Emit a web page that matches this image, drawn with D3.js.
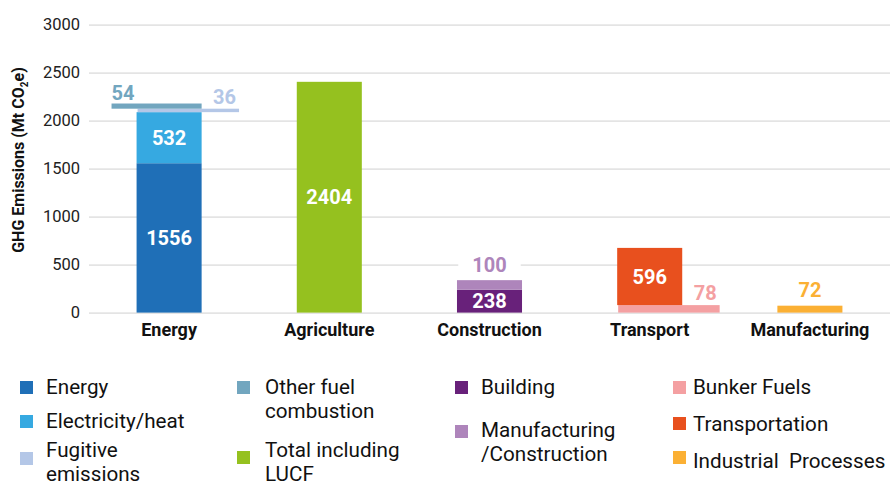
<!DOCTYPE html>
<html>
<head>
<meta charset="utf-8">
<script src="https://cdn.jsdelivr.net/npm/d3@7"></script>
<style>
  body { margin: 0; background: #fff; }
  svg { font-family: Roboto, "Noto Sans", sans-serif; display: block; }
  .legend text { white-space: pre; }
</style>
</head>
<body>
<svg id="chart" width="891" height="482"></svg>
<script>
// data
var categories = ["Energy", "Agriculture", "Construction", "Transport", "Manufacturing"];
var seriesNames = ["Energy", "Electricity/heat", "Fugitive emissions", "Other fuel combustion",
  "Total including LUCF", "Building", "Manufacturing/Construction", "Bunker Fuels",
  "Transportation", "Industrial  Processes"];
var seriesCategory = ["Energy", "Energy", "Energy", "Energy", "Agriculture",
  "Construction", "Construction", "Transport", "Transport", "Manufacturing"];
var seriesValues = [1556, 532, 36, 54, 2404, 238, 100, 78, 596, 72];
var yTicks = [0, 500, 1000, 1500, 2000, 2500, 3000];

// styling
var seriesColors = ["#1f6fb7", "#36a9e1", "#b4c7e7", "#72a6bf", "#95c11f",
  "#68217a", "#ae85bb", "#f4a0a2", "#e8501e", "#fbb034"];
var barShape = ["main", "main", "wide", "left", "main", "main", "main", "wide", "main", "main"];
var labelPos = ["in", "in", "right", "left", "in", "in", "above", "right", "in", "above"];
var legendLabels = ["Energy", "Electricity/heat", "Fugitive\nemissions", "Other fuel\ncombustion",
  "Total including\nLUCF", "Building", "Manufacturing\n/Construction", "Bunker Fuels",
  "Transportation", "Industrial  Processes"];
var legendCol = [0, 0, 0, 1, 1, 2, 2, 3, 3, 3];
var legendColX = [20, 237, 455, 673];
var legendTextX = [46, 265, 481, 693];
var legendSwatchY = [381, 415, 452, 381, 451, 381, 425, 381, 417, 451];
var legendBaseY = [394, 428, 457, 394, 457, 394, 437, 394, 431, 468];

var svg = d3.select("#chart");
var plotL = 89, plotR = 890, plotT = 24.6, plotB = 312.6;

var x = d3.scaleBand().domain(categories).range([plotL, plotR]);
var y = d3.scaleLinear().domain([0, 3000]).range([plotB, plotT]);
var barW = x.bandwidth() * 0.406;

// grid + y axis
var yAxis = svg.append("g")
  .attr("transform", "translate(" + plotL + ",0)")
  .call(d3.axisLeft(y).tickValues(yTicks).tickFormat(d3.format("d"))
    .tickSize(-(plotR - plotL)).tickPadding(9));
yAxis.select(".domain").remove();
yAxis.selectAll(".tick line").attr("stroke", "#e4e4e4").attr("stroke-width", 1.6);
yAxis.selectAll(".tick text")
  .attr("font-family", "Roboto, sans-serif")
  .attr("font-size", 16.5)
  .attr("fill", "#222");

// axis title
var title = svg.append("text")
  .attr("transform", "translate(24,160) rotate(-90)")
  .attr("text-anchor", "middle")
  .attr("font-size", 16)
  .attr("font-weight", "bold")
  .attr("fill", "#111");
title.append("tspan").text("GHG Emissions (Mt CO");
title.append("tspan").attr("font-size", 10).attr("dy", 3.5).text("2");
title.append("tspan").attr("dy", -3.5).text("e)");

// stack the segments per category in array order
var running = {};
var segs = seriesValues.map(function(v, i) {
  var cat = seriesCategory[i];
  var y0 = running[cat] || 0;
  running[cat] = y0 + v;
  var cx = x(cat) + x.bandwidth() / 2;
  var bl = cx - barW / 2, x0, w;
  if (barShape[i] == "wide") { x0 = bl + 1; w = barW * 1.56; }
  else if (barShape[i] == "left") { w = barW * 1.385; x0 = bl + barW - w; }
  else { x0 = bl; w = barW; }
  return {i: i, value: v, y0: y0, y1: y0 + v, x0: x0, w: w, cx: cx};
});

svg.append("g").selectAll("rect")
  .data(segs)
  .enter().append("rect")
  .attr("x", function(d) { return d.x0; })
  .attr("y", function(d) { return y(d.y1); })
  .attr("width", function(d) { return d.w; })
  .attr("height", function(d) { return y(d.y0) - y(d.y1); })
  .attr("fill", function(d) { return seriesColors[d.i]; });

// value labels
var labels = svg.append("g")
  .attr("font-weight", "bold")
  .attr("font-size", 20);

segs.forEach(function(d) {
  var pos = labelPos[d.i];
  var t = labels.append("text").text(d.value);
  if (pos == "in") {
    t.attr("x", d.cx)
      .attr("y", (y(d.y0) + y(d.y1)) / 2)
      .attr("dy", "0.35em")
      .attr("text-anchor", "middle")
      .attr("fill", "#fff");
  } else if (pos == "above") {
    t.attr("x", d.cx)
      .attr("y", y(d.y1) - 8.5)
      .attr("text-anchor", "middle")
      .attr("fill", seriesColors[d.i]);
    var bb = t.node().getBBox();
    labels.insert("rect", function() { return t.node(); })
      .attr("x", bb.x - 14).attr("y", bb.y)
      .attr("width", bb.width + 28).attr("height", bb.height)
      .attr("fill", "#fff");
  } else if (pos == "right") {
    t.attr("x", d.x0 + d.w - 3)
      .attr("y", y(d.y1) - 5)
      .attr("text-anchor", "end")
      .attr("fill", seriesColors[d.i]);
  } else {
    t.attr("x", d.x0)
      .attr("y", y(d.y1) - 4)
      .attr("text-anchor", "start")
      .attr("fill", seriesColors[d.i]);
  }
});

// category labels
svg.append("g").selectAll("text")
  .data(categories)
  .enter().append("text")
  .attr("x", function(d) { return x(d) + x.bandwidth() / 2; })
  .attr("y", 336)
  .attr("text-anchor", "middle")
  .attr("font-size", 18)
  .attr("font-weight", "bold")
  .attr("fill", "#111")
  .text(function(d) { return d; });

// legend (text a touch wider than plain Roboto)
var legend = svg.append("g").attr("class", "legend");
seriesNames.forEach(function(name, i) {
  var c = legendCol[i];
  legend.append("rect")
    .attr("x", legendColX[c])
    .attr("y", legendSwatchY[i])
    .attr("width", 13)
    .attr("height", 13)
    .attr("fill", seriesColors[i]);
  var t = legend.append("text")
    .attr("transform", "translate(" + legendTextX[c] + "," + legendBaseY[i] + ") scale(1.06,1)")
    .attr("font-size", 19.5)
    .attr("fill", "#111");
  legendLabels[i].split("\n").forEach(function(line, k) {
    t.append("tspan")
      .attr("x", 0)
      .attr("dy", k == 0 ? 0 : 24.5)
      .text(line);
  });
});
</script>
</body>
</html>
